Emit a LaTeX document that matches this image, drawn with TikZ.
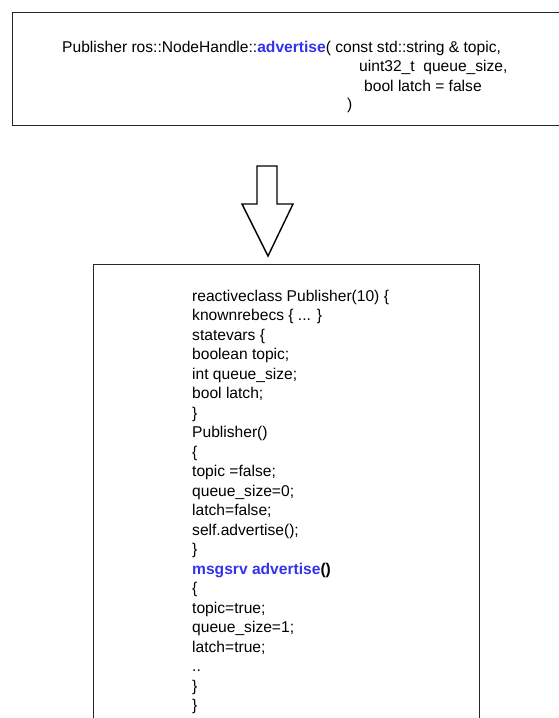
\documentclass[tikz,border=0pt]{standalone}
\usepackage{fontspec}
\setmainfont{Liberation Sans}
\definecolor{kw}{RGB}{51,51,238}
\newcommand{\codeline}[3]{\node[code] (#1) at (192,{301+19.5*#2}) {#3};}
\begin{document}
\begin{tikzpicture}[x=1pt,y=-1pt,
  frame/.style={draw=black!85,line width=1pt},
  code/.style={anchor=base west,inner sep=0pt,font=\fontsize{15.6}{18}\selectfont}]
\useasboundingbox (0,0) rectangle (559,718);
% signature box
\draw[frame] (12,12) -- (565,12) (12,12) -- (12,125) -- (565,125);
\node[code] (sig1) at (62,52) {Publisher ros::NodeHandle::\textcolor{kw}{\bfseries advertise}( const std::string \& topic,};
\node[code] (sig2) at (359,71.5) {uint32\_t\ \ queue\_size,};
\node[code] (sig3) at (364,91) {bool latch = false};
\node[code] (sig4) at (347,109.5) {)};
% block arrow
\draw[line width=1.4pt,line join=miter,fill=white]
  (257,166) -- (277,166) -- (277,204) -- (293,204) -- (268,256)
  -- (242,204) -- (257,204) -- cycle;
% model box
\draw[frame] (93,722) -- (93,264) -- (479,264) -- (479,722);
\codeline{l0}{0}{reactiveclass Publisher(10) \{}
\codeline{l1}{1}{knownrebecs \{ ... \}}
\codeline{l2}{2}{statevars \{}
\codeline{l3}{3}{boolean topic;}
\codeline{l4}{4}{int queue\_size;}
\codeline{l5}{5}{bool latch;}
\codeline{l6}{6}{\}}
\codeline{l7}{7}{Publisher()}
\codeline{l8}{8}{\{}
\codeline{l9}{9}{topic =false;}
\codeline{l10}{10}{queue\_size=0;}
\codeline{l11}{11}{latch=false;}
\codeline{l12}{12}{self.advertise();}
\codeline{l13}{13}{\}}
\codeline{l14}{14}{\bfseries\textcolor{kw}{msgsrv advertise}()}
\codeline{l15}{15}{\{}
\codeline{l16}{16}{topic=true;}
\codeline{l17}{17}{queue\_size=1;}
\codeline{l18}{18}{latch=true;}
\codeline{l19}{19}{..}
\codeline{l20}{20}{\}}
\codeline{l21}{21}{\}}
\end{tikzpicture}
\end{document}
